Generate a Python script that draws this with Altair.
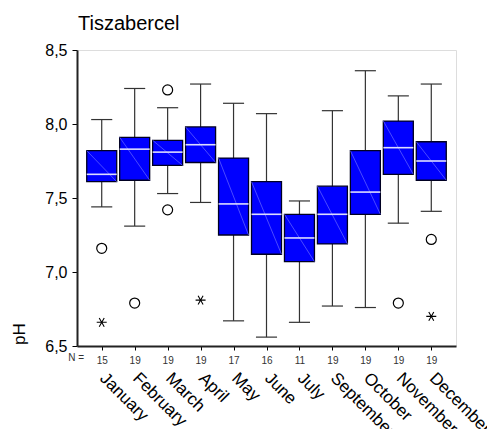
import json
import altair as alt
import pandas as pd

# ---- data ----
months = ["January", "February", "March", "April", "May", "June", "July",
          "September", "October", "November", "December"]
n_counts = [15, 19, 19, 19, 17, 16, 11, 19, 19, 19, 19]
whisker_low = [7.44, 7.31, 7.53, 7.47, 6.67, 6.56, 6.66, 6.77, 6.76, 7.33, 7.41]
q1 = [7.61, 7.62, 7.72, 7.74, 7.25, 7.12, 7.07, 7.19, 7.39, 7.66, 7.62]
median = [7.66, 7.83, 7.81, 7.86, 7.46, 7.39, 7.23, 7.39, 7.54, 7.84, 7.75]
q3 = [7.82, 7.91, 7.89, 7.98, 7.77, 7.61, 7.39, 7.58, 7.82, 8.02, 7.88]
whisker_high = [8.03, 8.24, 8.11, 8.27, 8.14, 8.07, 7.48, 8.09, 8.36, 8.19, 8.27]

outlier_month = ["January", "February", "March", "March", "November", "December"]
outlier_value = [7.16, 6.79, 8.23, 7.42, 6.79, 7.22]
extreme_month = ["January", "April", "December"]
extreme_value = [6.66, 6.81, 6.70]

y_ticks = [6.5, 7.0, 7.5, 8.0, 8.5]

FONT = "Liberation Sans"
W, H = 379, 296

box_df = pd.DataFrame({
    "month": months, "idx": list(range(len(months))), "n": n_counts,
    "lo": whisker_low, "q1": q1, "med": median, "q3": q3, "hi": whisker_high,
})
out_df = pd.DataFrame({"idx": [months.index(m) for m in outlier_month], "v": outlier_value})
ext_df = pd.DataFrame({"idx": [months.index(m) for m in extreme_month], "v": extreme_value})

label_arr = json.dumps([str(n) for n in n_counts])

x_scale = alt.Scale(domain=[-0.75, len(months) - 0.25], nice=False, zero=False)
x_axis = alt.Axis(values=list(range(len(months))), labelExpr=f"{label_arr}[datum.value]",
                  title=None, grid=False, tickSize=4, tickColor="black", domainColor="#222",
                  domainWidth=2, labelFont=FONT, labelFontSize=10, labelColor="#333",
                  labelPadding=5, labelFlush=False, labelOverlap=False)
y_scale = alt.Scale(domain=[6.5, 8.5], nice=False, zero=False)
y_axis = alt.Axis(values=y_ticks, labelExpr="replace(format(datum.value, '.1f'), '.', ',')",
                  title=None, grid=False, tickSize=5, tickColor="black", domainColor="#222",
                  domainWidth=2, labelFont=FONT, labelFontSize=16, labelColor="black",
                  labelPadding=5, labelFlush=False, labelOverlap=False)


def X(field):
    return alt.X(field, type="quantitative", scale=x_scale, axis=x_axis)


def Y(field):
    return alt.Y(field, type="quantitative", scale=y_scale, axis=y_axis)


base = alt.Chart(box_df).transform_calculate(
    bl="datum.idx - 0.455", br="datum.idx + 0.455",
    cl="datum.idx - 0.32", cr="datum.idx + 0.32",
    tx="datum.idx + 0.2",
)

whisk = base.mark_rule(color="#333", strokeWidth=1.2).encode(x=X("idx"), y=Y("lo"), y2="hi")
cap_lo = base.mark_rule(color="#333", strokeWidth=1.2).encode(x=X("cl:Q"), x2="cr:Q", y=Y("lo"))
cap_hi = base.mark_rule(color="#333", strokeWidth=1.2).encode(x=X("cl:Q"), x2="cr:Q", y=Y("hi"))
boxes = base.mark_rect(color="#0000FF", stroke="#000022", strokeWidth=1.3).encode(
    x=X("bl:Q"), x2="br:Q", y=Y("q1"), y2="q3")
diag = base.mark_rule(color="#6a6aff", strokeWidth=0.7).encode(
    x=X("bl:Q"), x2="br:Q", y=Y("q3"), y2="q1")
med = base.mark_rule(color="#dcdcff", strokeWidth=1.6).encode(
    x=X("bl:Q"), x2="br:Q", y=Y("med"))

circles = alt.Chart(out_df).mark_point(shape="circle", filled=False, size=100, color="black",
                                       strokeWidth=1.2, opacity=1).encode(x=X("idx"), y=Y("v"))
stars = alt.Chart(ext_df).mark_point(
    shape="M-1,0L1,0M-0.5,-0.866L0.5,0.866M-0.5,0.866L0.5,-0.866",
    filled=False, size=100, color="black", strokeWidth=1.1, opacity=1).encode(x=X("idx"), y=Y("v"))

month_text = base.mark_text(angle=45, align="left", baseline="top", font=FONT, fontSize=17,
                            color="black").encode(x=X("tx:Q"), y=alt.value(H + 24), text="month:N")

n_label = alt.Chart(pd.DataFrame({"t": ["N ="]})).mark_text(
    align="right", baseline="middle", font=FONT, fontSize=10, color="#333").encode(
    x=alt.value(7), y=alt.value(H + 12), text="t:N")

ph = alt.Chart(pd.DataFrame({"t": ["pH"]})).mark_text(
    angle=270, align="left", baseline="alphabetic", font=FONT, fontSize=17, color="black").encode(
    x=alt.value(-52), y=alt.value(H - 1), text="t:N")

title = alt.Chart(pd.DataFrame({"t": ["Tiszabercel"]})).mark_text(
    align="left", baseline="alphabetic", font=FONT, fontSize=20, color="black").encode(
    x=alt.value(1), y=alt.value(-20), text="t:N")

chart = alt.layer(whisk, cap_lo, cap_hi, boxes, diag, med, circles, stars,
                  month_text, n_label, ph, title).properties(
    width=W, height=H,
    autosize=alt.AutoSizeParams(type="none"),
    padding={"left": 77, "top": 50, "right": 31, "bottom": 83},
).configure_view(stroke="black", strokeWidth=1.2).configure(background="white")

chart.save("out.html", embed_options={"renderer": "svg", "actions": False})
